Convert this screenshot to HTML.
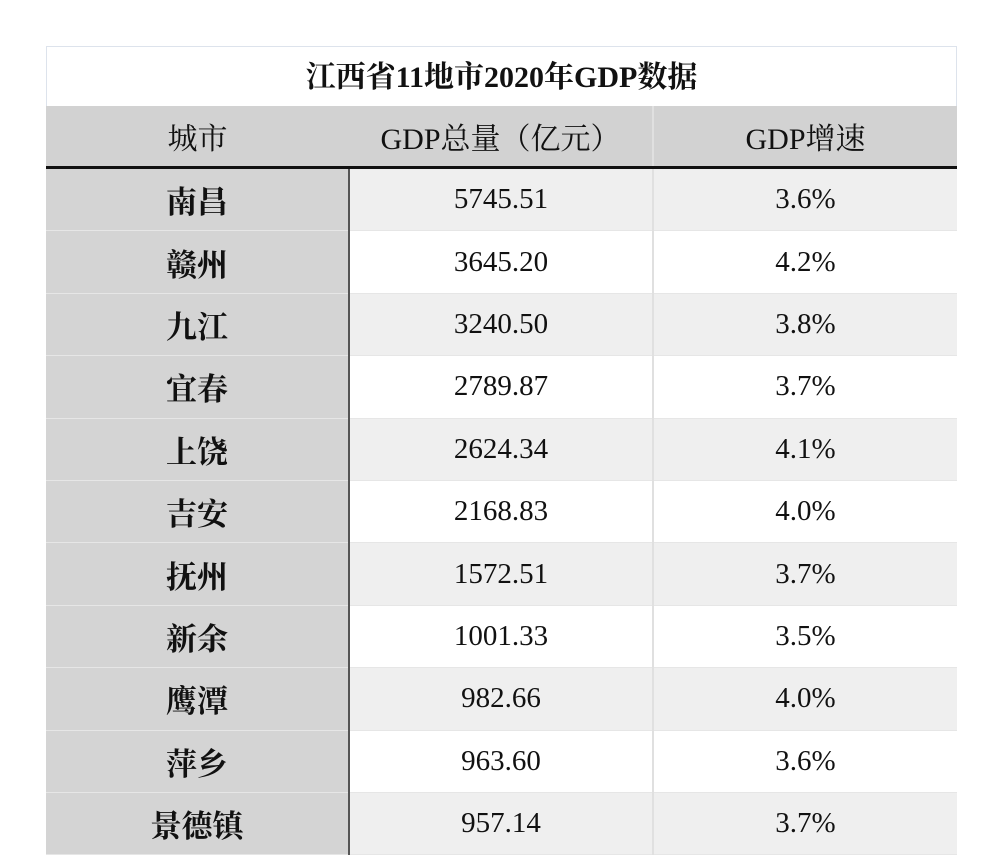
<!DOCTYPE html>
<html><head><meta charset="utf-8">
<style>
body{margin:0;width:1000px;height:826px;background:#fff;overflow:hidden;position:relative;font-family:"Liberation Serif","Noto Serif CJK SC",serif;}
#wrap{position:absolute;left:46px;top:46px;width:911px;}
.title{height:60px;border:1px solid #dde3ec;border-bottom:none;text-align:center;line-height:62px;font-size:30px;font-weight:bold;color:#111;box-sizing:border-box;}
table{border-collapse:collapse;width:911px;table-layout:fixed;}
td{padding:0;text-align:center;color:#111;height:61.4px;font-size:29px;border-bottom:1.5px solid #e6e6e6;}
tr.h td{background:#d2d2d2;height:60px;border-bottom:3px solid #111;font-size:30px;}
td.c{background:#d4d4d4;font-weight:bold;font-size:31px;border-right:2px solid #555;}
tr.h td.c{border-right:none;font-weight:normal}
tr.o td{background:#efefef}
tr.o td.c{background:#d4d4d4}
td.m{border-right:2px solid #e0e0e0}
</style></head><body>
<div id="wrap">
<div class="title">江西省11地市2020年GDP数据</div>
<table>
<colgroup><col style="width:303px"><col style="width:304px"><col style="width:304px"></colgroup>
<tr class="h"><td class="c">城市</td><td class="m">GDP总量（亿元）</td><td>GDP增速</td></tr>
<tr class="o"><td class="c">南昌</td><td class="m">5745.51</td><td>3.6%</td></tr>
<tr><td class="c">赣州</td><td class="m">3645.20</td><td>4.2%</td></tr>
<tr class="o"><td class="c">九江</td><td class="m">3240.50</td><td>3.8%</td></tr>
<tr><td class="c">宜春</td><td class="m">2789.87</td><td>3.7%</td></tr>
<tr class="o"><td class="c">上饶</td><td class="m">2624.34</td><td>4.1%</td></tr>
<tr><td class="c">吉安</td><td class="m">2168.83</td><td>4.0%</td></tr>
<tr class="o"><td class="c">抚州</td><td class="m">1572.51</td><td>3.7%</td></tr>
<tr><td class="c">新余</td><td class="m">1001.33</td><td>3.5%</td></tr>
<tr class="o"><td class="c">鹰潭</td><td class="m">982.66</td><td>4.0%</td></tr>
<tr><td class="c">萍乡</td><td class="m">963.60</td><td>3.6%</td></tr>
<tr class="o"><td class="c">景德镇</td><td class="m">957.14</td><td>3.7%</td></tr>
</table>
</div>
</body></html>
